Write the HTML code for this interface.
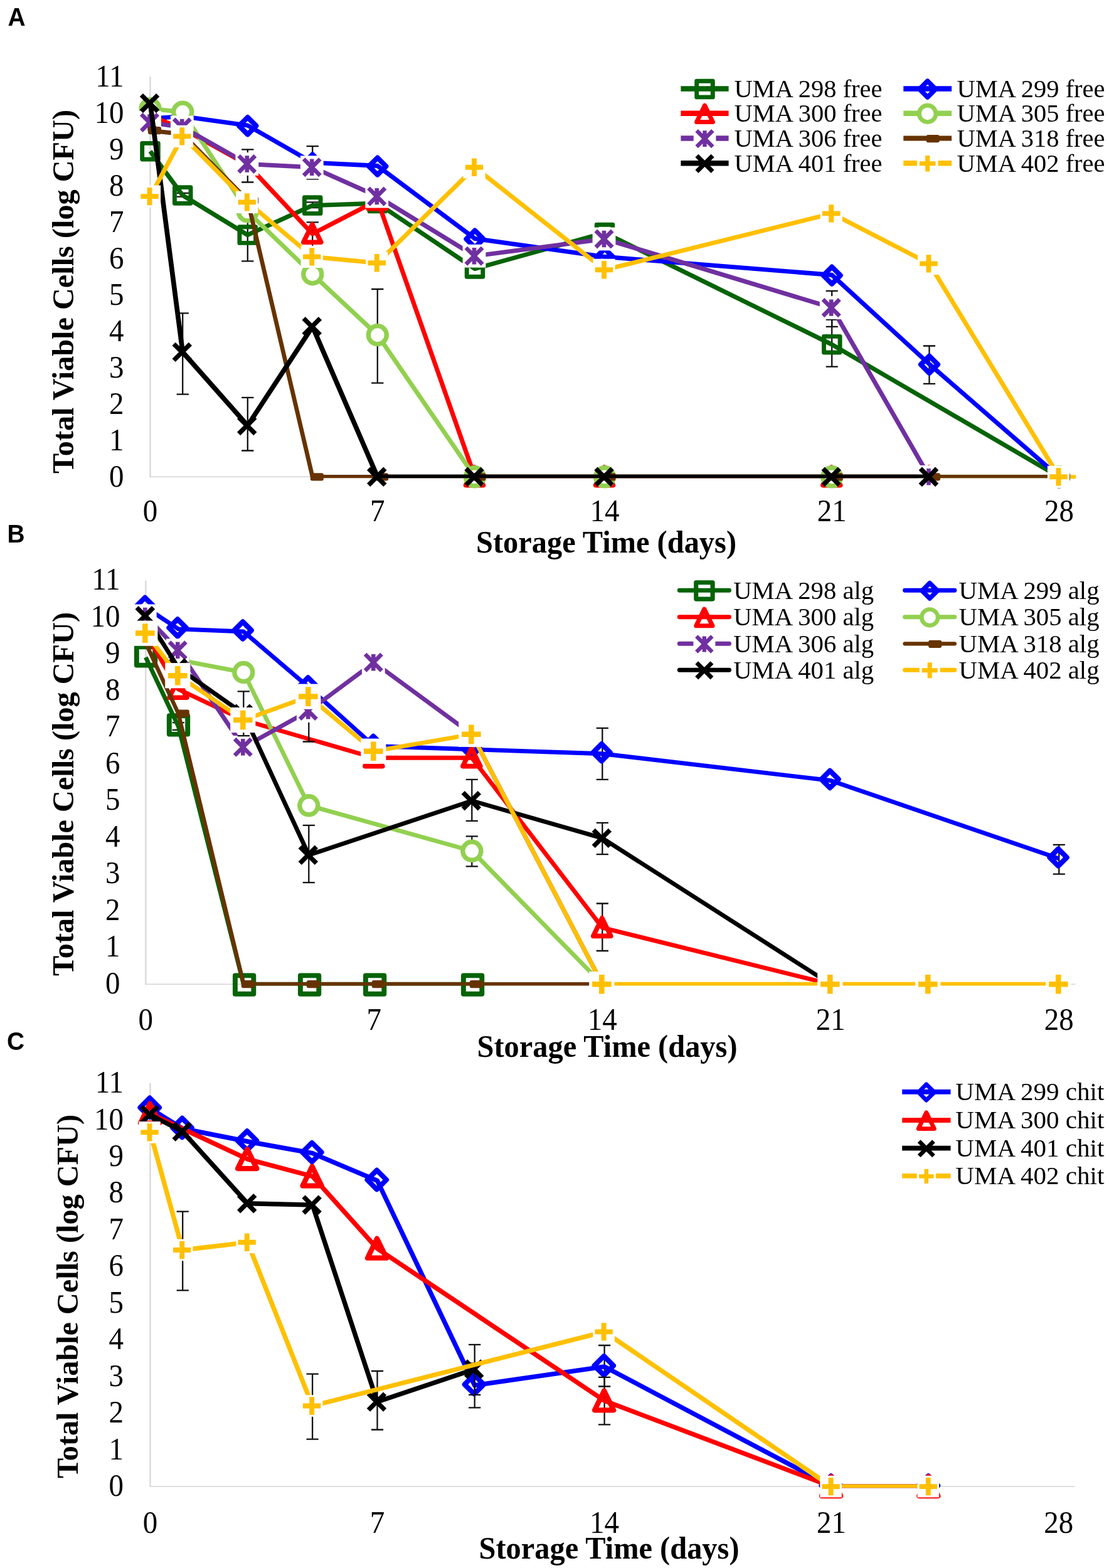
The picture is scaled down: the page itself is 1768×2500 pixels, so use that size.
<!DOCTYPE html>
<html lang="en">
<head>
<meta charset="utf-8">
<title>Figure</title>
<style>
html,body{margin:0;padding:0;background:#fff;}
body{width:1768px;height:2500px;overflow:hidden;font-family:"Liberation Serif",serif;}
svg{display:block;}
</style>
</head>
<body>
<svg width="1768" height="2500" viewBox="0 0 1768 2500">
<rect width="1768" height="2500" fill="#fff"/>
<g id="chartA">
<path d="M239.5 122.3L239.5 760.3" fill="none" stroke="#d9d9d9" stroke-width="2.4"/>
<path d="M238.3 760.3L1714.4 760.3" fill="none" stroke="#d4d4d4" stroke-width="1.5"/>
<g font-family="'Liberation Serif',serif" font-size="50.5" fill="#000">
<text transform="translate(197.5 775.5) scale(0.93 1)" text-anchor="end">0</text>
<text transform="translate(197.5 717.5) scale(0.93 1)" text-anchor="end">1</text>
<text transform="translate(197.5 659.5) scale(0.93 1)" text-anchor="end">2</text>
<text transform="translate(197.5 601.5) scale(0.93 1)" text-anchor="end">3</text>
<text transform="translate(197.5 543.5) scale(0.93 1)" text-anchor="end">4</text>
<text transform="translate(197.5 485.5) scale(0.93 1)" text-anchor="end">5</text>
<text transform="translate(197.5 427.5) scale(0.93 1)" text-anchor="end">6</text>
<text transform="translate(197.5 369.5) scale(0.93 1)" text-anchor="end">7</text>
<text transform="translate(197.5 311.5) scale(0.93 1)" text-anchor="end">8</text>
<text transform="translate(197.5 253.5) scale(0.93 1)" text-anchor="end">9</text>
<text transform="translate(197.5 195.5) scale(0.93 1)" text-anchor="end">10</text>
<text transform="translate(197.5 137.5) scale(0.93 1)" text-anchor="end">11</text>
<text transform="translate(239.5 831.0) scale(0.93 1)" text-anchor="middle">0</text>
<text transform="translate(601.8 831.0) scale(0.93 1)" text-anchor="middle">7</text>
<text transform="translate(964.0 831.0) scale(0.93 1)" text-anchor="middle">14</text>
<text transform="translate(1326.2 831.0) scale(0.93 1)" text-anchor="middle">21</text>
<text transform="translate(1688.5 831.0) scale(0.93 1)" text-anchor="middle">28</text>
</g>
<text x="966.5" y="881.0" text-anchor="middle" font-family="'Liberation Serif',serif" font-weight="bold" font-size="50" textLength="415" lengthAdjust="spacingAndGlyphs">Storage Time (days)</text>
<text transform="translate(116.5 465.0) rotate(-90)" text-anchor="middle" font-family="'Liberation Serif',serif" font-weight="bold" font-size="49.5" textLength="580" lengthAdjust="spacingAndGlyphs">Total Viable Cells (log CFU)</text>
<text transform="translate(12.5 40.5) scale(0.95 1)" font-family="'Liberation Sans',sans-serif" font-weight="bold" font-size="41">A</text>
<clipPath id="clipA"><rect x="209.5" y="82.3" width="1554.9" height="680.0"/></clipPath>
<path d="M394.8 332.8L394.8 416.4M385.1 332.8L404.4 332.8M385.1 416.4L404.4 416.4" fill="none" stroke="#111" stroke-width="2.3"/>
<path d="M1326.2 509.7L1326.2 584.6M1316.7 509.7L1335.8 509.7M1316.7 584.6L1335.8 584.6" fill="none" stroke="#111" stroke-width="2.3"/>
<path d="M291.2 307.9L291.2 313.7M281.6 307.9L300.9 307.9M281.6 313.7L300.9 313.7" fill="none" stroke="#111" stroke-width="2.3"/>
<path d="M498.2 322.4L498.2 331.1M488.6 322.4L507.9 322.4M488.6 331.1L507.9 331.1" fill="none" stroke="#111" stroke-width="2.3"/>
<path d="M239.5 241.2L291.2 311.4L394.8 374.6L498.2 327.6L601.8 324.1L757.0 428.5L964.0 371.1L1326.2 549.2L1688.5 760.3" clip-path="url(#clipA)" fill="none" stroke="#066306" stroke-width="7.1" stroke-linejoin="round" stroke-linecap="butt"/>
<rect x="226.7" y="228.4" width="25.6" height="25.6" fill="none" stroke="#066306" stroke-width="6.9" stroke-linejoin="round"/>
<rect x="278.4" y="298.6" width="25.6" height="25.6" fill="none" stroke="#066306" stroke-width="6.9" stroke-linejoin="round"/>
<rect x="381.9" y="361.8" width="25.6" height="25.6" fill="none" stroke="#066306" stroke-width="6.9" stroke-linejoin="round"/>
<rect x="485.4" y="314.8" width="25.6" height="25.6" fill="none" stroke="#066306" stroke-width="6.9" stroke-linejoin="round"/>
<rect x="589.0" y="311.3" width="25.6" height="25.6" fill="none" stroke="#066306" stroke-width="6.9" stroke-linejoin="round"/>
<rect x="744.2" y="415.7" width="25.6" height="25.6" fill="none" stroke="#066306" stroke-width="6.9" stroke-linejoin="round"/>
<rect x="951.2" y="358.3" width="25.6" height="25.6" fill="none" stroke="#066306" stroke-width="6.9" stroke-linejoin="round"/>
<rect x="1313.5" y="536.4" width="25.6" height="25.6" fill="none" stroke="#066306" stroke-width="6.9" stroke-linejoin="round"/>
<rect x="1675.7" y="747.5" width="25.6" height="25.6" fill="none" stroke="#066306" stroke-width="6.9" stroke-linejoin="round"/>
<path d="M1481.5 551.5L1481.5 611.8M1471.9 551.5L1491.1 551.5M1471.9 611.8L1491.1 611.8" fill="none" stroke="#111" stroke-width="2.3"/>
<path d="M498.2 233.1L498.2 285.3M488.6 233.1L507.9 233.1M488.6 285.3L507.9 285.3" fill="none" stroke="#111" stroke-width="2.3"/>
<path d="M239.5 189.0L291.2 185.5L394.8 200.0L498.2 259.2L601.8 264.4L757.0 380.4L964.0 409.4L1326.2 438.4L1481.5 580.5L1688.5 760.3" clip-path="url(#clipA)" fill="none" stroke="#0000ff" stroke-width="7.1" stroke-linejoin="round" stroke-linecap="butt"/>
<path d="M225.9 189.7L239.5 176.1L253.1 189.7L239.5 203.3Z" fill="none" stroke="#0000ff" stroke-width="8.0" stroke-linejoin="round"/>
<path d="M277.6 186.2L291.2 172.6L304.9 186.2L291.2 199.8Z" fill="none" stroke="#0000ff" stroke-width="8.0" stroke-linejoin="round"/>
<path d="M381.1 200.7L394.8 187.1L408.4 200.7L394.8 214.3Z" fill="none" stroke="#0000ff" stroke-width="8.0" stroke-linejoin="round"/>
<path d="M484.6 259.9L498.2 246.3L511.9 259.9L498.2 273.5Z" fill="none" stroke="#0000ff" stroke-width="8.0" stroke-linejoin="round"/>
<path d="M588.1 265.1L601.8 251.5L615.4 265.1L601.8 278.7Z" fill="none" stroke="#0000ff" stroke-width="8.0" stroke-linejoin="round"/>
<path d="M743.4 381.1L757.0 367.5L770.6 381.1L757.0 394.7Z" fill="none" stroke="#0000ff" stroke-width="8.0" stroke-linejoin="round"/>
<path d="M950.4 410.1L964.0 396.5L977.6 410.1L964.0 423.7Z" fill="none" stroke="#0000ff" stroke-width="8.0" stroke-linejoin="round"/>
<path d="M1312.7 439.1L1326.2 425.5L1339.8 439.1L1326.2 452.7Z" fill="none" stroke="#0000ff" stroke-width="8.0" stroke-linejoin="round"/>
<path d="M1467.9 581.2L1481.5 567.6L1495.1 581.2L1481.5 594.8Z" fill="none" stroke="#0000ff" stroke-width="8.0" stroke-linejoin="round"/>
<path d="M1674.9 761.0L1688.5 747.4L1702.1 761.0L1688.5 774.6Z" fill="none" stroke="#0000ff" stroke-width="8.0" stroke-linejoin="round"/>
<path d="M498.2 354.3L498.2 394.9M488.6 354.3L507.9 354.3M488.6 394.9L507.9 394.9" fill="none" stroke="#111" stroke-width="2.3"/>
<path d="M394.8 238.3L394.8 290.5M385.1 238.3L404.4 238.3M385.1 290.5L404.4 290.5" fill="none" stroke="#111" stroke-width="2.3"/>
<path d="M239.5 184.9L291.2 205.2L394.8 262.7L498.2 372.9L601.8 319.5L757.0 760.3L964.0 760.3L1326.2 760.3L1481.5 760.3" clip-path="url(#clipA)" fill="none" stroke="#ff0000" stroke-width="7.1" stroke-linejoin="round" stroke-linecap="butt"/>
<path d="M225.0 198.2L239.0 169.6L253.0 198.2Z" fill="none" stroke="#ff0000" stroke-width="7.6" stroke-linejoin="round"/>
<path d="M276.8 218.5L290.8 189.9L304.8 218.5Z" fill="none" stroke="#ff0000" stroke-width="7.6" stroke-linejoin="round"/>
<path d="M380.2 276.0L394.2 247.4L408.2 276.0Z" fill="none" stroke="#ff0000" stroke-width="7.6" stroke-linejoin="round"/>
<path d="M483.8 386.2L497.8 357.6L511.8 386.2Z" fill="none" stroke="#ff0000" stroke-width="7.6" stroke-linejoin="round"/>
<path d="M587.2 332.8L601.2 304.2L615.2 332.8Z" fill="none" stroke="#ff0000" stroke-width="7.6" stroke-linejoin="round"/>
<path d="M742.5 773.6L756.5 745.0L770.5 773.6Z" fill="none" stroke="#ff0000" stroke-width="7.6" stroke-linejoin="round"/>
<path d="M949.5 773.6L963.5 745.0L977.5 773.6Z" fill="none" stroke="#ff0000" stroke-width="7.6" stroke-linejoin="round"/>
<path d="M1311.8 773.6L1325.8 745.0L1339.8 773.6Z" fill="none" stroke="#ff0000" stroke-width="7.6" stroke-linejoin="round"/>
<path d="M1467.0 773.6L1481.0 745.0L1495.0 773.6Z" fill="none" stroke="#ff0000" stroke-width="7.6" stroke-linejoin="round"/>
<path d="M601.8 461.0L601.8 610.7M592.1 461.0L611.4 461.0M592.1 610.7L611.4 610.7" fill="none" stroke="#111" stroke-width="2.3"/>
<path d="M239.5 173.3L291.2 178.6L394.8 337.5L498.2 437.2L601.8 534.1L757.0 760.3L964.0 760.3L1326.2 760.3L1481.5 760.3L1688.5 760.3" clip-path="url(#clipA)" fill="none" stroke="#92d050" stroke-width="7.1" stroke-linejoin="round" stroke-linecap="butt"/>
<circle cx="239.5" cy="173.3" r="14.5" fill="#fff" stroke="#92d050" stroke-width="7.4"/>
<circle cx="291.2" cy="178.6" r="14.5" fill="#fff" stroke="#92d050" stroke-width="7.4"/>
<circle cx="394.8" cy="337.5" r="14.5" fill="#fff" stroke="#92d050" stroke-width="7.4"/>
<circle cx="498.2" cy="437.2" r="14.5" fill="#fff" stroke="#92d050" stroke-width="7.4"/>
<circle cx="601.8" cy="534.1" r="14.5" fill="#fff" stroke="#92d050" stroke-width="7.4"/>
<circle cx="757.0" cy="760.3" r="14.5" fill="#fff" stroke="#92d050" stroke-width="7.4"/>
<circle cx="964.0" cy="760.3" r="14.5" fill="#fff" stroke="#92d050" stroke-width="7.4"/>
<circle cx="1326.2" cy="760.3" r="14.5" fill="#fff" stroke="#92d050" stroke-width="7.4"/>
<circle cx="1481.5" cy="760.3" r="14.5" fill="#fff" stroke="#92d050" stroke-width="7.4"/>
<circle cx="1688.5" cy="760.3" r="14.5" fill="#fff" stroke="#92d050" stroke-width="7.4"/>
<path d="M1326.2 463.9L1326.2 520.8M1316.7 463.9L1335.8 463.9M1316.7 520.8L1335.8 520.8" fill="none" stroke="#111" stroke-width="2.3"/>
<path d="M239.5 195.4L291.2 202.9L394.8 261.5L498.2 266.7L601.8 313.1L757.0 408.2L964.0 381.0L1326.2 490.6L1481.5 760.3" clip-path="url(#clipA)" fill="none" stroke="#7030a0" stroke-width="7.1" stroke-linejoin="round" stroke-linecap="butt"/>
<rect x="220.1" y="177.0" width="36.8" height="36.8" fill="#fff"/><path d="M225.3 182.2L251.7 208.6M225.3 208.6L251.7 182.2M238.5 182.2L238.5 208.6" fill="none" stroke="#7030a0" stroke-width="6.6"/>
<rect x="271.9" y="184.5" width="36.8" height="36.8" fill="#fff"/><path d="M277.1 189.7L303.4 216.1M277.1 216.1L303.4 189.7M290.2 189.7L290.2 216.1" fill="none" stroke="#7030a0" stroke-width="6.6"/>
<rect x="375.4" y="243.1" width="36.8" height="36.8" fill="#fff"/><path d="M380.6 248.3L406.9 274.7M380.6 274.7L406.9 248.3M393.8 248.3L393.8 274.7" fill="none" stroke="#7030a0" stroke-width="6.6"/>
<rect x="478.9" y="248.3" width="36.8" height="36.8" fill="#fff"/><path d="M484.1 253.5L510.4 279.9M484.1 279.9L510.4 253.5M497.2 253.5L497.2 279.9" fill="none" stroke="#7030a0" stroke-width="6.6"/>
<rect x="582.4" y="294.7" width="36.8" height="36.8" fill="#fff"/><path d="M587.5 299.9L614.0 326.3M587.5 326.3L614.0 299.9M600.8 299.9L600.8 326.3" fill="none" stroke="#7030a0" stroke-width="6.6"/>
<rect x="737.6" y="389.8" width="36.8" height="36.8" fill="#fff"/><path d="M742.8 395.0L769.2 421.4M742.8 421.4L769.2 395.0M756.0 395.0L756.0 421.4" fill="none" stroke="#7030a0" stroke-width="6.6"/>
<rect x="944.6" y="362.6" width="36.8" height="36.8" fill="#fff"/><path d="M949.8 367.8L976.2 394.2M949.8 394.2L976.2 367.8M963.0 367.8L963.0 394.2" fill="none" stroke="#7030a0" stroke-width="6.6"/>
<rect x="1306.8" y="472.2" width="36.8" height="36.8" fill="#fff"/><path d="M1312.0 477.4L1338.5 503.8M1312.0 503.8L1338.5 477.4M1325.2 477.4L1325.2 503.8" fill="none" stroke="#7030a0" stroke-width="6.6"/>
<rect x="1462.1" y="741.9" width="36.8" height="36.8" fill="#fff"/><path d="M1467.3 747.1L1493.7 773.5M1467.3 773.5L1493.7 747.1M1480.5 747.1L1480.5 773.5" fill="none" stroke="#7030a0" stroke-width="6.6"/>
<path d="M239.5 208.1L291.2 213.9L394.8 319.5L498.2 760.3L601.8 760.3L757.0 760.3L964.0 760.3L1326.2 760.3L1481.5 760.3L1688.5 760.3" clip-path="url(#clipA)" fill="none" stroke="#663300" stroke-width="6.8" stroke-linejoin="round" stroke-linecap="butt"/>
<rect x="236.0" y="202.0" width="21.0" height="12.2" rx="3" fill="#663300"/>
<rect x="287.8" y="207.8" width="21.0" height="12.2" rx="3" fill="#663300"/>
<rect x="391.2" y="313.4" width="21.0" height="12.2" rx="3" fill="#663300"/>
<rect x="494.8" y="754.2" width="21.0" height="12.2" rx="3" fill="#663300"/>
<rect x="598.2" y="754.2" width="21.0" height="12.2" rx="3" fill="#663300"/>
<rect x="753.5" y="754.2" width="21.0" height="12.2" rx="3" fill="#663300"/>
<rect x="960.5" y="754.2" width="21.0" height="12.2" rx="3" fill="#663300"/>
<rect x="1322.8" y="754.2" width="21.0" height="12.2" rx="3" fill="#663300"/>
<rect x="1478.0" y="754.2" width="21.0" height="12.2" rx="3" fill="#663300"/>
<rect x="1685.0" y="754.2" width="21.0" height="12.2" rx="3" fill="#663300"/>
<path d="M291.2 499.3L291.2 628.6M281.6 499.3L300.9 499.3M281.6 628.6L300.9 628.6" fill="none" stroke="#111" stroke-width="2.3"/>
<path d="M394.8 633.9L394.8 718.5M385.1 633.9L404.4 633.9M385.1 718.5L404.4 718.5" fill="none" stroke="#111" stroke-width="2.3"/>
<path d="M239.5 164.6L291.2 561.4L394.8 678.5L498.2 520.8L601.8 760.3L757.0 760.3L964.0 760.3L1326.2 760.3L1481.5 760.3" clip-path="url(#clipA)" fill="none" stroke="#000000" stroke-width="7.7" stroke-linejoin="round" stroke-linecap="butt"/>
<path d="M225.4 151.5L251.6 177.7M225.4 177.7L251.6 151.5" fill="none" stroke="#000000" stroke-width="7.4"/>
<path d="M277.1 548.3L303.4 574.5M277.1 574.5L303.4 548.3" fill="none" stroke="#000000" stroke-width="7.4"/>
<path d="M380.6 665.4L406.9 691.6M380.6 691.6L406.9 665.4" fill="none" stroke="#000000" stroke-width="7.4"/>
<path d="M484.1 507.7L510.4 533.9M484.1 533.9L510.4 507.7" fill="none" stroke="#000000" stroke-width="7.4"/>
<path d="M587.6 747.2L613.9 773.4M587.6 773.4L613.9 747.2" fill="none" stroke="#000000" stroke-width="7.4"/>
<path d="M742.9 747.2L769.1 773.4M742.9 773.4L769.1 747.2" fill="none" stroke="#000000" stroke-width="7.4"/>
<path d="M949.9 747.2L976.1 773.4M949.9 773.4L976.1 747.2" fill="none" stroke="#000000" stroke-width="7.4"/>
<path d="M1312.2 747.2L1338.3 773.4M1312.2 773.4L1338.3 747.2" fill="none" stroke="#000000" stroke-width="7.4"/>
<path d="M1467.4 747.2L1493.6 773.4M1467.4 773.4L1493.6 747.2" fill="none" stroke="#000000" stroke-width="7.4"/>
<path d="M239.5 313.1L291.2 217.4L394.8 322.4L498.2 409.4L601.8 419.3L757.0 266.7L964.0 430.3L1326.2 340.4L1481.5 420.4L1688.5 760.3" clip-path="url(#clipA)" fill="none" stroke="#ffc000" stroke-width="7.1" stroke-linejoin="round" stroke-linecap="butt"/>
<rect x="220.9" y="295.5" width="35.2" height="35.2" fill="#fff"/><path d="M224.3 313.1L252.7 313.1M238.5 298.9L238.5 327.3" fill="none" stroke="#ffc000" stroke-width="7.9"/>
<rect x="272.6" y="199.8" width="35.2" height="35.2" fill="#fff"/><path d="M276.1 217.4L304.4 217.4M290.2 203.2L290.2 231.6" fill="none" stroke="#ffc000" stroke-width="7.9"/>
<rect x="376.1" y="304.8" width="35.2" height="35.2" fill="#fff"/><path d="M379.6 322.4L407.9 322.4M393.8 308.2L393.8 336.6" fill="none" stroke="#ffc000" stroke-width="7.9"/>
<rect x="479.6" y="391.8" width="35.2" height="35.2" fill="#fff"/><path d="M483.1 409.4L511.4 409.4M497.2 395.2L497.2 423.6" fill="none" stroke="#ffc000" stroke-width="7.9"/>
<rect x="583.1" y="401.7" width="35.2" height="35.2" fill="#fff"/><path d="M586.5 419.3L615.0 419.3M600.8 405.1L600.8 433.5" fill="none" stroke="#ffc000" stroke-width="7.9"/>
<rect x="738.4" y="249.1" width="35.2" height="35.2" fill="#fff"/><path d="M741.8 266.7L770.2 266.7M756.0 252.5L756.0 280.9" fill="none" stroke="#ffc000" stroke-width="7.9"/>
<rect x="945.4" y="412.7" width="35.2" height="35.2" fill="#fff"/><path d="M948.8 430.3L977.2 430.3M963.0 416.1L963.0 444.5" fill="none" stroke="#ffc000" stroke-width="7.9"/>
<rect x="1307.7" y="322.8" width="35.2" height="35.2" fill="#fff"/><path d="M1311.0 340.4L1339.5 340.4M1325.2 326.2L1325.2 354.6" fill="none" stroke="#ffc000" stroke-width="7.9"/>
<rect x="1462.9" y="402.8" width="35.2" height="35.2" fill="#fff"/><path d="M1466.3 420.4L1494.7 420.4M1480.5 406.2L1480.5 434.6" fill="none" stroke="#ffc000" stroke-width="7.9"/>
<rect x="1669.9" y="742.7" width="35.2" height="35.2" fill="#fff"/><path d="M1673.3 760.3L1701.7 760.3M1687.5 746.1L1687.5 774.5" fill="none" stroke="#ffc000" stroke-width="7.9"/>
<path d="M1706 760.3L1715 760.3" stroke="#ffc000" stroke-width="6" fill="none"/>
<g font-family="'Liberation Serif',serif" font-size="40" fill="#000">
<path d="M1085.4 141.5L1161.6 141.5" stroke="#066306" stroke-width="8.4" stroke-linecap="butt" fill="none"/>
<rect x="1110.7" y="129.3" width="25.6" height="25.6" fill="none" stroke="#066306" stroke-width="6.9" stroke-linejoin="round"/>
<text x="1170.5" y="154.8" textLength="236" lengthAdjust="spacingAndGlyphs">UMA 298 free</text>
<path d="M1440.3 141.5L1517.1 141.5" stroke="#0000ff" stroke-width="8.4" stroke-linecap="butt" fill="none"/>
<path d="M1465.8 142.1L1478.7 129.2L1491.6 142.1L1478.7 155.0Z" fill="none" stroke="#0000ff" stroke-width="7.6" stroke-linejoin="round"/>
<text x="1525.5" y="154.8" textLength="236" lengthAdjust="spacingAndGlyphs">UMA 299 free</text>
<path d="M1085.4 180.7L1161.6 180.7" stroke="#ff0000" stroke-width="8.4" stroke-linecap="butt" fill="none"/>
<path d="M1110.6 194.5L1123.5 168.1L1136.4 194.5Z" fill="none" stroke="#ff0000" stroke-width="7.0" stroke-linejoin="round"/>
<text x="1170.5" y="194.0" textLength="236" lengthAdjust="spacingAndGlyphs">UMA 300 free</text>
<path d="M1440.3 180.7L1517.1 180.7" stroke="#92d050" stroke-width="8.4" stroke-linecap="butt" fill="none"/>
<circle cx="1478.7" cy="181.3" r="13.3" fill="#fff" stroke="#92d050" stroke-width="6.8"/>
<text x="1525.5" y="194.0" textLength="236" lengthAdjust="spacingAndGlyphs">UMA 305 free</text>
<path d="M1085.4 220.5L1161.6 220.5" stroke="#7030a0" stroke-width="8.4" stroke-linecap="butt" fill="none"/>
<rect x="1105.7" y="203.3" width="35.7" height="35.7" fill="#fff"/><path d="M1110.7 208.3L1136.3 233.9M1110.7 233.9L1136.3 208.3M1123.5 208.3L1123.5 233.9" fill="none" stroke="#7030a0" stroke-width="6.4"/>
<text x="1170.5" y="233.8" textLength="236" lengthAdjust="spacingAndGlyphs">UMA 306 free</text>
<path d="M1440.3 220.5L1517.1 220.5" stroke="#663300" stroke-width="7.800000000000001" stroke-linecap="butt" fill="none"/>
<rect x="1476.7" y="215.0" width="21.0" height="12.2" rx="3" fill="#663300"/>
<text x="1525.5" y="233.8" textLength="236" lengthAdjust="spacingAndGlyphs">UMA 318 free</text>
<path d="M1085.4 260.2L1161.6 260.2" stroke="#000000" stroke-width="8.4" stroke-linecap="butt" fill="none"/>
<path d="M1110.9 248.2L1136.1 273.4M1110.9 273.4L1136.1 248.2" fill="none" stroke="#000000" stroke-width="7.1"/>
<text x="1170.5" y="273.5" textLength="236" lengthAdjust="spacingAndGlyphs">UMA 401 free</text>
<path d="M1440.3 260.2L1517.1 260.2" stroke="#ffc000" stroke-width="8.4" stroke-linecap="butt" fill="none"/>
<rect x="1462.0" y="244.1" width="33.5" height="33.5" fill="#fff"/><path d="M1465.9 260.8L1491.5 260.8M1478.7 248.0L1478.7 273.6" fill="none" stroke="#ffc000" stroke-width="7.1"/>
<text x="1525.5" y="273.5" textLength="236" lengthAdjust="spacingAndGlyphs">UMA 402 free</text>
</g>
</g>
<g id="chartB">
<path d="M232.3 925.7L232.3 1569.2" fill="none" stroke="#d9d9d9" stroke-width="2.4"/>
<path d="M231.1 1569.2L1714.3 1569.2" fill="none" stroke="#d4d4d4" stroke-width="1.5"/>
<g font-family="'Liberation Serif',serif" font-size="50.5" fill="#000">
<text transform="translate(191.5 1583.6) scale(0.93 1)" text-anchor="end">0</text>
<text transform="translate(191.5 1525.1) scale(0.93 1)" text-anchor="end">1</text>
<text transform="translate(191.5 1466.6) scale(0.93 1)" text-anchor="end">2</text>
<text transform="translate(191.5 1408.1) scale(0.93 1)" text-anchor="end">3</text>
<text transform="translate(191.5 1349.6) scale(0.93 1)" text-anchor="end">4</text>
<text transform="translate(191.5 1291.1) scale(0.93 1)" text-anchor="end">5</text>
<text transform="translate(191.5 1232.6) scale(0.93 1)" text-anchor="end">6</text>
<text transform="translate(191.5 1174.1) scale(0.93 1)" text-anchor="end">7</text>
<text transform="translate(191.5 1115.6) scale(0.93 1)" text-anchor="end">8</text>
<text transform="translate(191.5 1057.1) scale(0.93 1)" text-anchor="end">9</text>
<text transform="translate(191.5 998.6) scale(0.93 1)" text-anchor="end">10</text>
<text transform="translate(191.5 940.1) scale(0.93 1)" text-anchor="end">11</text>
<text transform="translate(232.3 1642.2) scale(0.93 1)" text-anchor="middle">0</text>
<text transform="translate(596.3 1642.2) scale(0.93 1)" text-anchor="middle">7</text>
<text transform="translate(960.3 1642.2) scale(0.93 1)" text-anchor="middle">14</text>
<text transform="translate(1324.3 1642.2) scale(0.93 1)" text-anchor="middle">21</text>
<text transform="translate(1688.3 1642.2) scale(0.93 1)" text-anchor="middle">28</text>
</g>
<text x="968.0" y="1685.0" text-anchor="middle" font-family="'Liberation Serif',serif" font-weight="bold" font-size="50" textLength="415" lengthAdjust="spacingAndGlyphs">Storage Time (days)</text>
<text transform="translate(116.5 1266.0) rotate(-90)" text-anchor="middle" font-family="'Liberation Serif',serif" font-weight="bold" font-size="49.5" textLength="580" lengthAdjust="spacingAndGlyphs">Total Viable Cells (log CFU)</text>
<text transform="translate(11.5 864.5) scale(0.95 1)" font-family="'Liberation Sans',sans-serif" font-weight="bold" font-size="41">B</text>
<clipPath id="clipB"><rect x="202.3" y="885.7" width="1562.0" height="685.7"/></clipPath>
<path d="M284.3 1152.1L284.3 1163.8M274.7 1152.1L293.9 1152.1M274.7 1163.8L293.9 1163.8" fill="none" stroke="#111" stroke-width="2.3"/>
<path d="M232.3 1048.0L284.3 1157.9L388.3 1569.2L492.3 1569.2L596.3 1569.2L752.3 1569.2" clip-path="url(#clipB)" fill="none" stroke="#066306" stroke-width="6.9" stroke-linejoin="round" stroke-linecap="butt"/>
<rect x="217.8" y="1031.2" width="29.4" height="29.4" fill="none" stroke="#066306" stroke-width="7.9" stroke-linejoin="round"/>
<rect x="269.8" y="1141.2" width="29.4" height="29.4" fill="none" stroke="#066306" stroke-width="7.9" stroke-linejoin="round"/>
<rect x="374.9" y="1555.4" width="29.4" height="29.4" fill="none" stroke="#066306" stroke-width="7.9" stroke-linejoin="round"/>
<rect x="478.9" y="1555.4" width="29.4" height="29.4" fill="none" stroke="#066306" stroke-width="7.9" stroke-linejoin="round"/>
<rect x="582.9" y="1555.4" width="29.4" height="29.4" fill="none" stroke="#066306" stroke-width="7.9" stroke-linejoin="round"/>
<rect x="738.9" y="1555.4" width="29.4" height="29.4" fill="none" stroke="#066306" stroke-width="7.9" stroke-linejoin="round"/>
<path d="M960.3 1160.9L960.3 1242.8M950.7 1160.9L969.9 1160.9M950.7 1242.8L969.9 1242.8" fill="none" stroke="#111" stroke-width="2.3"/>
<path d="M1688.3 1346.9L1688.3 1393.7M1678.7 1346.9L1697.9 1346.9M1678.7 1393.7L1697.9 1393.7" fill="none" stroke="#111" stroke-width="2.3"/>
<path d="M232.3 968.4L284.3 1002.9L388.3 1007.0L492.3 1095.9L596.3 1189.5L752.3 1194.8L960.3 1201.8L1324.3 1244.5L1688.3 1369.1" clip-path="url(#clipB)" fill="none" stroke="#0000ff" stroke-width="6.9" stroke-linejoin="round" stroke-linecap="butt"/>
<path d="M217.5 966.4L231.1 952.8L244.7 966.4L231.1 980.0Z" fill="none" stroke="#0000ff" stroke-width="8.2" stroke-linejoin="round"/>
<path d="M269.5 1000.9L283.1 987.3L296.7 1000.9L283.1 1014.5Z" fill="none" stroke="#0000ff" stroke-width="8.2" stroke-linejoin="round"/>
<path d="M373.5 1005.0L387.1 991.4L400.7 1005.0L387.1 1018.6Z" fill="none" stroke="#0000ff" stroke-width="8.2" stroke-linejoin="round"/>
<path d="M477.5 1093.9L491.1 1080.3L504.7 1093.9L491.1 1107.5Z" fill="none" stroke="#0000ff" stroke-width="8.2" stroke-linejoin="round"/>
<path d="M581.5 1187.5L595.1 1173.9L608.7 1187.5L595.1 1201.1Z" fill="none" stroke="#0000ff" stroke-width="8.2" stroke-linejoin="round"/>
<path d="M737.5 1192.8L751.1 1179.2L764.7 1192.8L751.1 1206.4Z" fill="none" stroke="#0000ff" stroke-width="8.2" stroke-linejoin="round"/>
<path d="M945.5 1199.8L959.1 1186.2L972.7 1199.8L959.1 1213.4Z" fill="none" stroke="#0000ff" stroke-width="8.2" stroke-linejoin="round"/>
<path d="M1309.5 1242.5L1323.1 1228.9L1336.7 1242.5L1323.1 1256.1Z" fill="none" stroke="#0000ff" stroke-width="8.2" stroke-linejoin="round"/>
<path d="M1673.5 1367.1L1687.1 1353.5L1700.7 1367.1L1687.1 1380.7Z" fill="none" stroke="#0000ff" stroke-width="8.2" stroke-linejoin="round"/>
<path d="M960.3 1440.5L960.3 1516.0M950.7 1440.5L969.9 1440.5M950.7 1516.0L969.9 1516.0" fill="none" stroke="#111" stroke-width="2.3"/>
<path d="M232.3 1009.9L284.3 1098.9L388.3 1148.0L596.3 1208.3L752.3 1208.3L960.3 1479.1L1324.3 1569.2" clip-path="url(#clipB)" fill="none" stroke="#ff0000" stroke-width="6.9" stroke-linejoin="round" stroke-linecap="butt"/>
<path d="M217.8 1023.2L231.8 994.6L245.8 1023.2Z" fill="none" stroke="#ff0000" stroke-width="7.6" stroke-linejoin="round"/>
<path d="M269.8 1112.2L283.8 1083.6L297.8 1112.2Z" fill="none" stroke="#ff0000" stroke-width="7.6" stroke-linejoin="round"/>
<path d="M373.8 1161.3L387.8 1132.7L401.8 1161.3Z" fill="none" stroke="#ff0000" stroke-width="7.6" stroke-linejoin="round"/>
<path d="M581.8 1221.6L595.8 1193.0L609.8 1221.6Z" fill="none" stroke="#ff0000" stroke-width="7.6" stroke-linejoin="round"/>
<path d="M737.8 1221.6L751.8 1193.0L765.8 1221.6Z" fill="none" stroke="#ff0000" stroke-width="7.6" stroke-linejoin="round"/>
<path d="M945.8 1492.4L959.8 1463.8L973.8 1492.4Z" fill="none" stroke="#ff0000" stroke-width="7.6" stroke-linejoin="round"/>
<path d="M752.3 1333.4L752.3 1381.4M742.7 1333.4L761.9 1333.4M742.7 1381.4L761.9 1381.4" fill="none" stroke="#111" stroke-width="2.3"/>
<path d="M232.3 995.9L284.3 1052.1L388.3 1072.0L492.3 1284.3L752.3 1356.8L960.3 1569.2" clip-path="url(#clipB)" fill="none" stroke="#92d050" stroke-width="6.9" stroke-linejoin="round" stroke-linecap="butt"/>
<circle cx="232.3" cy="995.9" r="14.5" fill="#fff" stroke="#92d050" stroke-width="7.4"/>
<circle cx="284.3" cy="1052.1" r="14.5" fill="#fff" stroke="#92d050" stroke-width="7.4"/>
<circle cx="388.3" cy="1072.0" r="14.5" fill="#fff" stroke="#92d050" stroke-width="7.4"/>
<circle cx="492.3" cy="1284.3" r="14.5" fill="#fff" stroke="#92d050" stroke-width="7.4"/>
<circle cx="752.3" cy="1356.8" r="14.5" fill="#fff" stroke="#92d050" stroke-width="7.4"/>
<path d="M492.3 1095.9L492.3 1182.5M482.7 1095.9L501.9 1095.9M482.7 1182.5L501.9 1182.5" fill="none" stroke="#111" stroke-width="2.3"/>
<path d="M232.3 981.9L284.3 1036.8L388.3 1191.3L492.3 1133.4L596.3 1056.2L752.3 1170.8L960.3 1569.2" clip-path="url(#clipB)" fill="none" stroke="#7030a0" stroke-width="6.9" stroke-linejoin="round" stroke-linecap="butt"/>
<rect x="212.9" y="963.5" width="36.8" height="36.8" fill="#fff"/><path d="M218.1 968.7L244.5 995.1M218.1 995.1L244.5 968.7M231.3 968.7L231.3 995.1" fill="none" stroke="#7030a0" stroke-width="6.6"/>
<rect x="264.9" y="1018.4" width="36.8" height="36.8" fill="#fff"/><path d="M270.1 1023.6L296.5 1050.0M270.1 1050.0L296.5 1023.6M283.3 1023.6L283.3 1050.0" fill="none" stroke="#7030a0" stroke-width="6.6"/>
<rect x="368.9" y="1172.9" width="36.8" height="36.8" fill="#fff"/><path d="M374.1 1178.1L400.5 1204.5M374.1 1204.5L400.5 1178.1M387.3 1178.1L387.3 1204.5" fill="none" stroke="#7030a0" stroke-width="6.6"/>
<rect x="472.9" y="1115.0" width="36.8" height="36.8" fill="#fff"/><path d="M478.1 1120.2L504.5 1146.6M478.1 1146.6L504.5 1120.2M491.3 1120.2L491.3 1146.6" fill="none" stroke="#7030a0" stroke-width="6.6"/>
<rect x="576.9" y="1037.8" width="36.8" height="36.8" fill="#fff"/><path d="M582.1 1043.0L608.5 1069.4M582.1 1069.4L608.5 1043.0M595.3 1043.0L595.3 1069.4" fill="none" stroke="#7030a0" stroke-width="6.6"/>
<rect x="732.9" y="1152.4" width="36.8" height="36.8" fill="#fff"/><path d="M738.1 1157.6L764.5 1184.0M738.1 1184.0L764.5 1157.6M751.3 1157.6L751.3 1184.0" fill="none" stroke="#7030a0" stroke-width="6.6"/>
<path d="M232.3 1025.2L284.3 1137.5L388.3 1569.2L492.3 1569.2L596.3 1569.2L752.3 1569.2L960.3 1569.2" clip-path="url(#clipB)" fill="none" stroke="#663300" stroke-width="6.4" stroke-linejoin="round" stroke-linecap="butt"/>
<rect x="228.8" y="1019.1" width="21.0" height="12.2" rx="3" fill="#663300"/>
<rect x="280.8" y="1131.4" width="21.0" height="12.2" rx="3" fill="#663300"/>
<rect x="384.8" y="1563.1" width="21.0" height="12.2" rx="3" fill="#663300"/>
<rect x="488.8" y="1563.1" width="21.0" height="12.2" rx="3" fill="#663300"/>
<rect x="592.8" y="1563.1" width="21.0" height="12.2" rx="3" fill="#663300"/>
<rect x="748.8" y="1563.1" width="21.0" height="12.2" rx="3" fill="#663300"/>
<rect x="956.8" y="1563.1" width="21.0" height="12.2" rx="3" fill="#663300"/>
<path d="M388.3 1102.4L388.3 1173.2M378.7 1102.4L397.9 1102.4M378.7 1173.2L397.9 1173.2" fill="none" stroke="#111" stroke-width="2.3"/>
<path d="M492.3 1315.9L492.3 1407.2M482.7 1315.9L501.9 1315.9M482.7 1407.2L501.9 1407.2" fill="none" stroke="#111" stroke-width="2.3"/>
<path d="M752.3 1242.8L752.3 1308.9M742.7 1242.8L761.9 1242.8M742.7 1308.9L761.9 1308.9" fill="none" stroke="#111" stroke-width="2.3"/>
<path d="M960.3 1311.8L960.3 1362.1M950.7 1311.8L969.9 1311.8M950.7 1362.1L969.9 1362.1" fill="none" stroke="#111" stroke-width="2.3"/>
<path d="M232.3 981.9L284.3 1064.9L388.3 1138.1L492.3 1363.3L752.3 1276.7L960.3 1336.4L1324.3 1569.2" clip-path="url(#clipB)" fill="none" stroke="#000000" stroke-width="6.9" stroke-linejoin="round" stroke-linecap="butt"/>
<path d="M218.2 968.8L244.4 995.0M218.2 995.0L244.4 968.8" fill="none" stroke="#000000" stroke-width="7.4"/>
<path d="M270.2 1051.8L296.4 1078.0M270.2 1078.0L296.4 1051.8" fill="none" stroke="#000000" stroke-width="7.4"/>
<path d="M374.2 1125.0L400.4 1151.2M374.2 1151.2L400.4 1125.0" fill="none" stroke="#000000" stroke-width="7.4"/>
<path d="M478.2 1350.2L504.4 1376.4M478.2 1376.4L504.4 1350.2" fill="none" stroke="#000000" stroke-width="7.4"/>
<path d="M738.2 1263.6L764.4 1289.8M738.2 1289.8L764.4 1263.6" fill="none" stroke="#000000" stroke-width="7.4"/>
<path d="M946.2 1323.3L972.4 1349.5M946.2 1349.5L972.4 1323.3" fill="none" stroke="#000000" stroke-width="7.4"/>
<path d="M232.3 1009.6L284.3 1077.2L388.3 1148.0L492.3 1110.6L596.3 1197.7L752.3 1170.8L960.3 1569.2L1324.3 1569.2L1480.3 1569.2L1688.3 1569.2" clip-path="url(#clipB)" fill="none" stroke="#ffc000" stroke-width="6.9" stroke-linejoin="round" stroke-linecap="butt"/>
<rect x="211.2" y="989.6" width="40.2" height="40.2" fill="#fff"/><path d="M216.0 1009.6L246.6 1009.6M231.3 994.3L231.3 1025.0" fill="none" stroke="#ffc000" stroke-width="8.5"/>
<rect x="263.2" y="1057.1" width="40.2" height="40.2" fill="#fff"/><path d="M268.0 1077.2L298.6 1077.2M283.3 1061.9L283.3 1092.6" fill="none" stroke="#ffc000" stroke-width="8.5"/>
<rect x="367.2" y="1127.9" width="40.2" height="40.2" fill="#fff"/><path d="M372.0 1148.0L402.6 1148.0M387.3 1132.7L387.3 1163.3" fill="none" stroke="#ffc000" stroke-width="8.5"/>
<rect x="471.2" y="1090.5" width="40.2" height="40.2" fill="#fff"/><path d="M476.0 1110.6L506.6 1110.6M491.3 1095.2L491.3 1125.9" fill="none" stroke="#ffc000" stroke-width="8.5"/>
<rect x="575.2" y="1177.6" width="40.2" height="40.2" fill="#fff"/><path d="M580.0 1197.7L610.6 1197.7M595.3 1182.4L595.3 1213.1" fill="none" stroke="#ffc000" stroke-width="8.5"/>
<rect x="731.2" y="1150.7" width="40.2" height="40.2" fill="#fff"/><path d="M736.0 1170.8L766.6 1170.8M751.3 1155.5L751.3 1186.2" fill="none" stroke="#ffc000" stroke-width="8.5"/>
<rect x="939.2" y="1549.1" width="40.2" height="40.2" fill="#fff"/><path d="M944.0 1569.2L974.6 1569.2M959.3 1553.9L959.3 1584.5" fill="none" stroke="#ffc000" stroke-width="8.5"/>
<rect x="1303.2" y="1549.1" width="40.2" height="40.2" fill="#fff"/><path d="M1308.0 1569.2L1338.6 1569.2M1323.3 1553.9L1323.3 1584.5" fill="none" stroke="#ffc000" stroke-width="8.5"/>
<rect x="1459.2" y="1549.1" width="40.2" height="40.2" fill="#fff"/><path d="M1464.0 1569.2L1494.6 1569.2M1479.3 1553.9L1479.3 1584.5" fill="none" stroke="#ffc000" stroke-width="8.5"/>
<rect x="1667.2" y="1549.1" width="40.2" height="40.2" fill="#fff"/><path d="M1672.0 1569.2L1702.6 1569.2M1687.3 1553.9L1687.3 1584.5" fill="none" stroke="#ffc000" stroke-width="8.5"/>

<g font-family="'Liberation Serif',serif" font-size="40" fill="#000">
<path d="M1083.2 941.3L1162.5 941.3" stroke="#066306" stroke-width="6.9" stroke-linecap="round" fill="none"/>
<rect x="1109.7" y="928.7" width="26.4" height="26.4" fill="none" stroke="#066306" stroke-width="7.1" stroke-linejoin="round"/>
<text x="1169.2" y="954.6" textLength="224" lengthAdjust="spacingAndGlyphs">UMA 298 alg</text>
<path d="M1442.6 941.3L1521.9 941.3" stroke="#0000ff" stroke-width="6.9" stroke-linecap="round" fill="none"/>
<path d="M1470.0 941.9L1482.2 929.7L1494.5 941.9L1482.2 954.1Z" fill="none" stroke="#0000ff" stroke-width="7.4" stroke-linejoin="round"/>
<text x="1528.5" y="954.6" textLength="224" lengthAdjust="spacingAndGlyphs">UMA 299 alg</text>
<path d="M1083.2 983.8L1162.5 983.8" stroke="#ff0000" stroke-width="6.9" stroke-linecap="round" fill="none"/>
<path d="M1109.8 997.7L1122.8 971.1L1135.9 997.7Z" fill="none" stroke="#ff0000" stroke-width="7.1" stroke-linejoin="round"/>
<text x="1169.2" y="997.1" textLength="224" lengthAdjust="spacingAndGlyphs">UMA 300 alg</text>
<path d="M1442.6 983.8L1521.9 983.8" stroke="#92d050" stroke-width="6.9" stroke-linecap="round" fill="none"/>
<circle cx="1482.2" cy="984.4" r="12.9" fill="#fff" stroke="#92d050" stroke-width="6.6"/>
<text x="1528.5" y="997.1" textLength="224" lengthAdjust="spacingAndGlyphs">UMA 305 alg</text>
<path d="M1083.2 1026.3L1162.5 1026.3" stroke="#7030a0" stroke-width="6.9" stroke-linecap="round" fill="none"/>
<rect x="1105.4" y="1009.4" width="35.0" height="35.0" fill="#fff"/><path d="M1110.3 1014.4L1135.4 1039.4M1110.3 1039.4L1135.4 1014.4M1122.8 1014.4L1122.8 1039.4" fill="none" stroke="#7030a0" stroke-width="6.3"/>
<text x="1169.2" y="1039.6" textLength="224" lengthAdjust="spacingAndGlyphs">UMA 306 alg</text>
<path d="M1442.6 1026.3L1521.9 1026.3" stroke="#663300" stroke-width="6.300000000000001" stroke-linecap="round" fill="none"/>
<rect x="1480.2" y="1020.8" width="21.0" height="12.2" rx="3" fill="#663300"/>
<text x="1528.5" y="1039.6" textLength="224" lengthAdjust="spacingAndGlyphs">UMA 318 alg</text>
<path d="M1083.2 1068.2L1162.5 1068.2" stroke="#000000" stroke-width="6.9" stroke-linecap="round" fill="none"/>
<path d="M1110.7 1056.6L1135.0 1081.0M1110.7 1081.0L1135.0 1056.6" fill="none" stroke="#000000" stroke-width="6.9"/>
<text x="1169.2" y="1081.5" textLength="224" lengthAdjust="spacingAndGlyphs">UMA 401 alg</text>
<path d="M1442.6 1068.2L1521.9 1068.2" stroke="#ffc000" stroke-width="6.9" stroke-linecap="round" fill="none"/>
<rect x="1465.9" y="1052.4" width="32.7" height="32.7" fill="#fff"/><path d="M1469.8 1068.8L1494.7 1068.8M1482.2 1056.3L1482.2 1081.3" fill="none" stroke="#ffc000" stroke-width="7.0"/>
<text x="1528.5" y="1081.5" textLength="224" lengthAdjust="spacingAndGlyphs">UMA 402 alg</text>
</g>
</g>
<g id="chartC">
<path d="M239.5 1727.0L239.5 2370.1" fill="none" stroke="#d9d9d9" stroke-width="2.4"/>
<path d="M238.3 2370.1L1713.5 2370.1" fill="none" stroke="#d4d4d4" stroke-width="1.5"/>
<g font-family="'Liberation Serif',serif" font-size="50.5" fill="#000">
<text transform="translate(197.0 2385.1) scale(0.93 1)" text-anchor="end">0</text>
<text transform="translate(197.0 2326.6) scale(0.93 1)" text-anchor="end">1</text>
<text transform="translate(197.0 2268.2) scale(0.93 1)" text-anchor="end">2</text>
<text transform="translate(197.0 2209.7) scale(0.93 1)" text-anchor="end">3</text>
<text transform="translate(197.0 2151.3) scale(0.93 1)" text-anchor="end">4</text>
<text transform="translate(197.0 2092.8) scale(0.93 1)" text-anchor="end">5</text>
<text transform="translate(197.0 2034.3) scale(0.93 1)" text-anchor="end">6</text>
<text transform="translate(197.0 1975.9) scale(0.93 1)" text-anchor="end">7</text>
<text transform="translate(197.0 1917.4) scale(0.93 1)" text-anchor="end">8</text>
<text transform="translate(197.0 1859.0) scale(0.93 1)" text-anchor="end">9</text>
<text transform="translate(197.0 1800.5) scale(0.93 1)" text-anchor="end">10</text>
<text transform="translate(197.0 1742.0) scale(0.93 1)" text-anchor="end">11</text>
<text transform="translate(239.5 2444.1) scale(0.93 1)" text-anchor="middle">0</text>
<text transform="translate(601.5 2444.1) scale(0.93 1)" text-anchor="middle">7</text>
<text transform="translate(963.6 2444.1) scale(0.93 1)" text-anchor="middle">14</text>
<text transform="translate(1325.6 2444.1) scale(0.93 1)" text-anchor="middle">21</text>
<text transform="translate(1687.7 2444.1) scale(0.93 1)" text-anchor="middle">28</text>
</g>
<text x="971.0" y="2485.0" text-anchor="middle" font-family="'Liberation Serif',serif" font-weight="bold" font-size="50" textLength="415" lengthAdjust="spacingAndGlyphs">Storage Time (days)</text>
<text transform="translate(124.0 2067.0) rotate(-90)" text-anchor="middle" font-family="'Liberation Serif',serif" font-weight="bold" font-size="49.5" textLength="580" lengthAdjust="spacingAndGlyphs">Total Viable Cells (log CFU)</text>
<text transform="translate(11.0 1673.6) scale(0.95 1)" font-family="'Liberation Sans',sans-serif" font-weight="bold" font-size="41">C</text>
<clipPath id="clipC"><rect x="209.5" y="1687.0" width="1554.0" height="685.3"/></clipPath>
<path d="M756.7 2173.7L756.7 2244.4M747.1 2173.7L766.3 2173.7M747.1 2244.4L766.3 2244.4" fill="none" stroke="#111" stroke-width="2.3"/>
<path d="M963.6 2145.0L963.6 2210.5M954.0 2145.0L973.2 2145.0M954.0 2210.5L973.2 2210.5" fill="none" stroke="#111" stroke-width="2.3"/>
<path d="M239.5 1767.4L291.2 1799.5L394.7 1820.0L498.1 1838.7L601.5 1882.5L756.7 2208.8L963.6 2178.9L1325.6 2370.1L1480.8 2370.1" clip-path="url(#clipC)" fill="none" stroke="#0000ff" stroke-width="7.4" stroke-linejoin="round" stroke-linecap="butt"/>
<path d="M223.5 1765.9L238.7 1750.6L253.9 1765.9L238.7 1781.1Z" fill="none" stroke="#0000ff" stroke-width="8.1" stroke-linejoin="round"/>
<path d="M275.2 1798.0L290.4 1782.8L305.7 1798.0L290.4 1813.3Z" fill="none" stroke="#0000ff" stroke-width="8.1" stroke-linejoin="round"/>
<path d="M378.6 1818.5L393.9 1803.3L409.1 1818.5L393.9 1833.7Z" fill="none" stroke="#0000ff" stroke-width="8.1" stroke-linejoin="round"/>
<path d="M482.1 1837.2L497.3 1822.0L512.5 1837.2L497.3 1852.4Z" fill="none" stroke="#0000ff" stroke-width="8.1" stroke-linejoin="round"/>
<path d="M585.5 1881.0L600.7 1865.8L616.0 1881.0L600.7 1896.3Z" fill="none" stroke="#0000ff" stroke-width="8.1" stroke-linejoin="round"/>
<path d="M740.7 2207.3L755.9 2192.0L771.1 2207.3L755.9 2222.5Z" fill="none" stroke="#0000ff" stroke-width="8.1" stroke-linejoin="round"/>
<path d="M947.5 2177.4L962.8 2162.2L978.0 2177.4L962.8 2192.7Z" fill="none" stroke="#0000ff" stroke-width="8.1" stroke-linejoin="round"/>
<path d="M1309.6 2368.6L1324.8 2353.4L1340.1 2368.6L1324.8 2383.8Z" fill="none" stroke="#0000ff" stroke-width="8.1" stroke-linejoin="round"/>
<path d="M1464.7 2368.6L1480.0 2353.4L1495.2 2368.6L1480.0 2383.8Z" fill="none" stroke="#0000ff" stroke-width="8.1" stroke-linejoin="round"/>
<path d="M963.6 2195.9L963.6 2271.3M954.0 2195.9L973.2 2195.9M954.0 2271.3L973.2 2271.3" fill="none" stroke="#111" stroke-width="2.3"/>
<path d="M239.5 1775.6L394.7 1848.1L498.1 1875.5L601.5 1990.7L963.6 2233.3L1325.6 2370.1L1480.8 2370.1" clip-path="url(#clipC)" fill="none" stroke="#ff0000" stroke-width="7.4" stroke-linejoin="round" stroke-linecap="butt"/>
<path d="M223.9 1790.6L239.0 1759.7L254.1 1790.6Z" fill="none" stroke="#ff0000" stroke-width="8.2" stroke-linejoin="round"/>
<path d="M379.0 1863.1L394.2 1832.2L409.3 1863.1Z" fill="none" stroke="#ff0000" stroke-width="8.2" stroke-linejoin="round"/>
<path d="M482.5 1890.6L497.6 1859.7L512.7 1890.6Z" fill="none" stroke="#ff0000" stroke-width="8.2" stroke-linejoin="round"/>
<path d="M585.9 2005.7L601.0 1974.9L616.2 2005.7Z" fill="none" stroke="#ff0000" stroke-width="8.2" stroke-linejoin="round"/>
<path d="M948.0 2248.3L963.1 2217.5L978.2 2248.3Z" fill="none" stroke="#ff0000" stroke-width="8.2" stroke-linejoin="round"/>
<path d="M1310.0 2385.1L1325.1 2354.3L1340.2 2385.1Z" fill="none" stroke="#ff0000" stroke-width="8.2" stroke-linejoin="round"/>
<path d="M1465.2 2385.1L1480.3 2354.3L1495.4 2385.1Z" fill="none" stroke="#ff0000" stroke-width="8.2" stroke-linejoin="round"/>
<path d="M601.5 2186.0L601.5 2279.5M591.9 2186.0L611.1 2186.0M591.9 2279.5L611.1 2279.5" fill="none" stroke="#111" stroke-width="2.3"/>
<path d="M756.7 2143.9L756.7 2223.9M747.1 2143.9L766.3 2143.9M747.1 2223.9L766.3 2223.9" fill="none" stroke="#111" stroke-width="2.3"/>
<path d="M239.5 1777.3L291.2 1804.2L394.7 1918.8L498.1 1921.1L601.5 2235.1L756.7 2183.0" clip-path="url(#clipC)" fill="none" stroke="#000000" stroke-width="7.4" stroke-linejoin="round" stroke-linecap="butt"/>
<path d="M225.4 1764.2L251.6 1790.4M225.4 1790.4L251.6 1764.2" fill="none" stroke="#000000" stroke-width="7.4"/>
<path d="M277.1 1791.1L303.3 1817.3M277.1 1817.3L303.3 1791.1" fill="none" stroke="#000000" stroke-width="7.4"/>
<path d="M380.6 1905.7L406.8 1931.9M380.6 1931.9L406.8 1905.7" fill="none" stroke="#000000" stroke-width="7.4"/>
<path d="M484.0 1908.0L510.2 1934.2M484.0 1934.2L510.2 1908.0" fill="none" stroke="#000000" stroke-width="7.4"/>
<path d="M587.4 2222.0L613.6 2248.2M587.4 2248.2L613.6 2222.0" fill="none" stroke="#000000" stroke-width="7.4"/>
<path d="M742.6 2169.9L768.8 2196.1M742.6 2196.1L768.8 2169.9" fill="none" stroke="#000000" stroke-width="7.4"/>
<path d="M291.2 1931.6L291.2 2057.3M281.6 1931.6L300.8 1931.6M281.6 2057.3L300.8 2057.3" fill="none" stroke="#111" stroke-width="2.3"/>
<path d="M498.1 2190.6L498.1 2294.7M488.5 2190.6L507.7 2190.6M488.5 2294.7L507.7 2294.7" fill="none" stroke="#111" stroke-width="2.3"/>
<path d="M239.5 1805.4L291.2 1993.0L394.7 1980.8L498.1 2241.5L963.6 2123.4L1325.6 2370.1L1480.8 2370.1" clip-path="url(#clipC)" fill="none" stroke="#ffc000" stroke-width="7.4" stroke-linejoin="round" stroke-linecap="butt"/>
<rect x="221.2" y="1788.1" width="34.6" height="34.6" fill="#fff"/><path d="M224.3 1805.4L252.7 1805.4M238.5 1791.2L238.5 1819.6" fill="none" stroke="#ffc000" stroke-width="7.9"/>
<rect x="272.9" y="1975.7" width="34.6" height="34.6" fill="#fff"/><path d="M276.0 1993.0L304.4 1993.0M290.2 1978.8L290.2 2007.2" fill="none" stroke="#ffc000" stroke-width="7.9"/>
<rect x="376.4" y="1963.5" width="34.6" height="34.6" fill="#fff"/><path d="M379.5 1980.8L407.9 1980.8M393.7 1966.6L393.7 1995.0" fill="none" stroke="#ffc000" stroke-width="7.9"/>
<rect x="479.8" y="2224.2" width="34.6" height="34.6" fill="#fff"/><path d="M482.9 2241.5L511.3 2241.5M497.1 2227.3L497.1 2255.7" fill="none" stroke="#ffc000" stroke-width="7.9"/>
<rect x="945.3" y="2106.1" width="34.6" height="34.6" fill="#fff"/><path d="M948.4 2123.4L976.8 2123.4M962.6 2109.2L962.6 2137.6" fill="none" stroke="#ffc000" stroke-width="7.9"/>
<rect x="1307.3" y="2352.8" width="34.6" height="34.6" fill="#fff"/><path d="M1310.4 2370.1L1338.8 2370.1M1324.6 2355.9L1324.6 2384.3" fill="none" stroke="#ffc000" stroke-width="7.9"/>
<rect x="1462.5" y="2352.8" width="34.6" height="34.6" fill="#fff"/><path d="M1465.6 2370.1L1494.0 2370.1M1479.8 2355.9L1479.8 2384.3" fill="none" stroke="#ffc000" stroke-width="7.9"/>

<g font-family="'Liberation Serif',serif" font-size="40" fill="#000">
<path d="M1438.2 1740.9L1515.5 1740.9" stroke="#0000ff" stroke-width="7.8" stroke-linecap="butt" fill="none"/>
<path d="M1464.2 1741.5L1476.8 1728.9L1489.5 1741.5L1476.8 1754.1Z" fill="none" stroke="#0000ff" stroke-width="6.7" stroke-linejoin="round"/>
<text x="1523.3" y="1754.2" textLength="237" lengthAdjust="spacingAndGlyphs">UMA 299 chit</text>
<path d="M1438.2 1786.1L1515.5 1786.1" stroke="#ff0000" stroke-width="7.8" stroke-linecap="butt" fill="none"/>
<path d="M1464.2 1799.6L1476.8 1773.8L1489.4 1799.6Z" fill="none" stroke="#ff0000" stroke-width="6.8" stroke-linejoin="round"/>
<text x="1523.3" y="1799.4" textLength="237" lengthAdjust="spacingAndGlyphs">UMA 300 chit</text>
<path d="M1438.2 1830.7L1515.5 1830.7" stroke="#000000" stroke-width="7.8" stroke-linecap="butt" fill="none"/>
<path d="M1465.2 1819.6L1488.5 1843.0M1465.2 1843.0L1488.5 1819.6" fill="none" stroke="#000000" stroke-width="6.6"/>
<text x="1523.3" y="1844.0" textLength="237" lengthAdjust="spacingAndGlyphs">UMA 401 chit</text>
<path d="M1438.2 1874.8L1515.5 1874.8" stroke="#ffc000" stroke-width="7.8" stroke-linecap="butt" fill="none"/>
<rect x="1461.6" y="1860.1" width="30.5" height="30.5" fill="#fff"/><path d="M1465.2 1875.4L1488.5 1875.4M1476.8 1863.8L1476.8 1887.0" fill="none" stroke="#ffc000" stroke-width="6.5"/>
<text x="1523.3" y="1888.1" textLength="237" lengthAdjust="spacingAndGlyphs">UMA 402 chit</text>
</g>
</g>
</svg>
</body>
</html>
